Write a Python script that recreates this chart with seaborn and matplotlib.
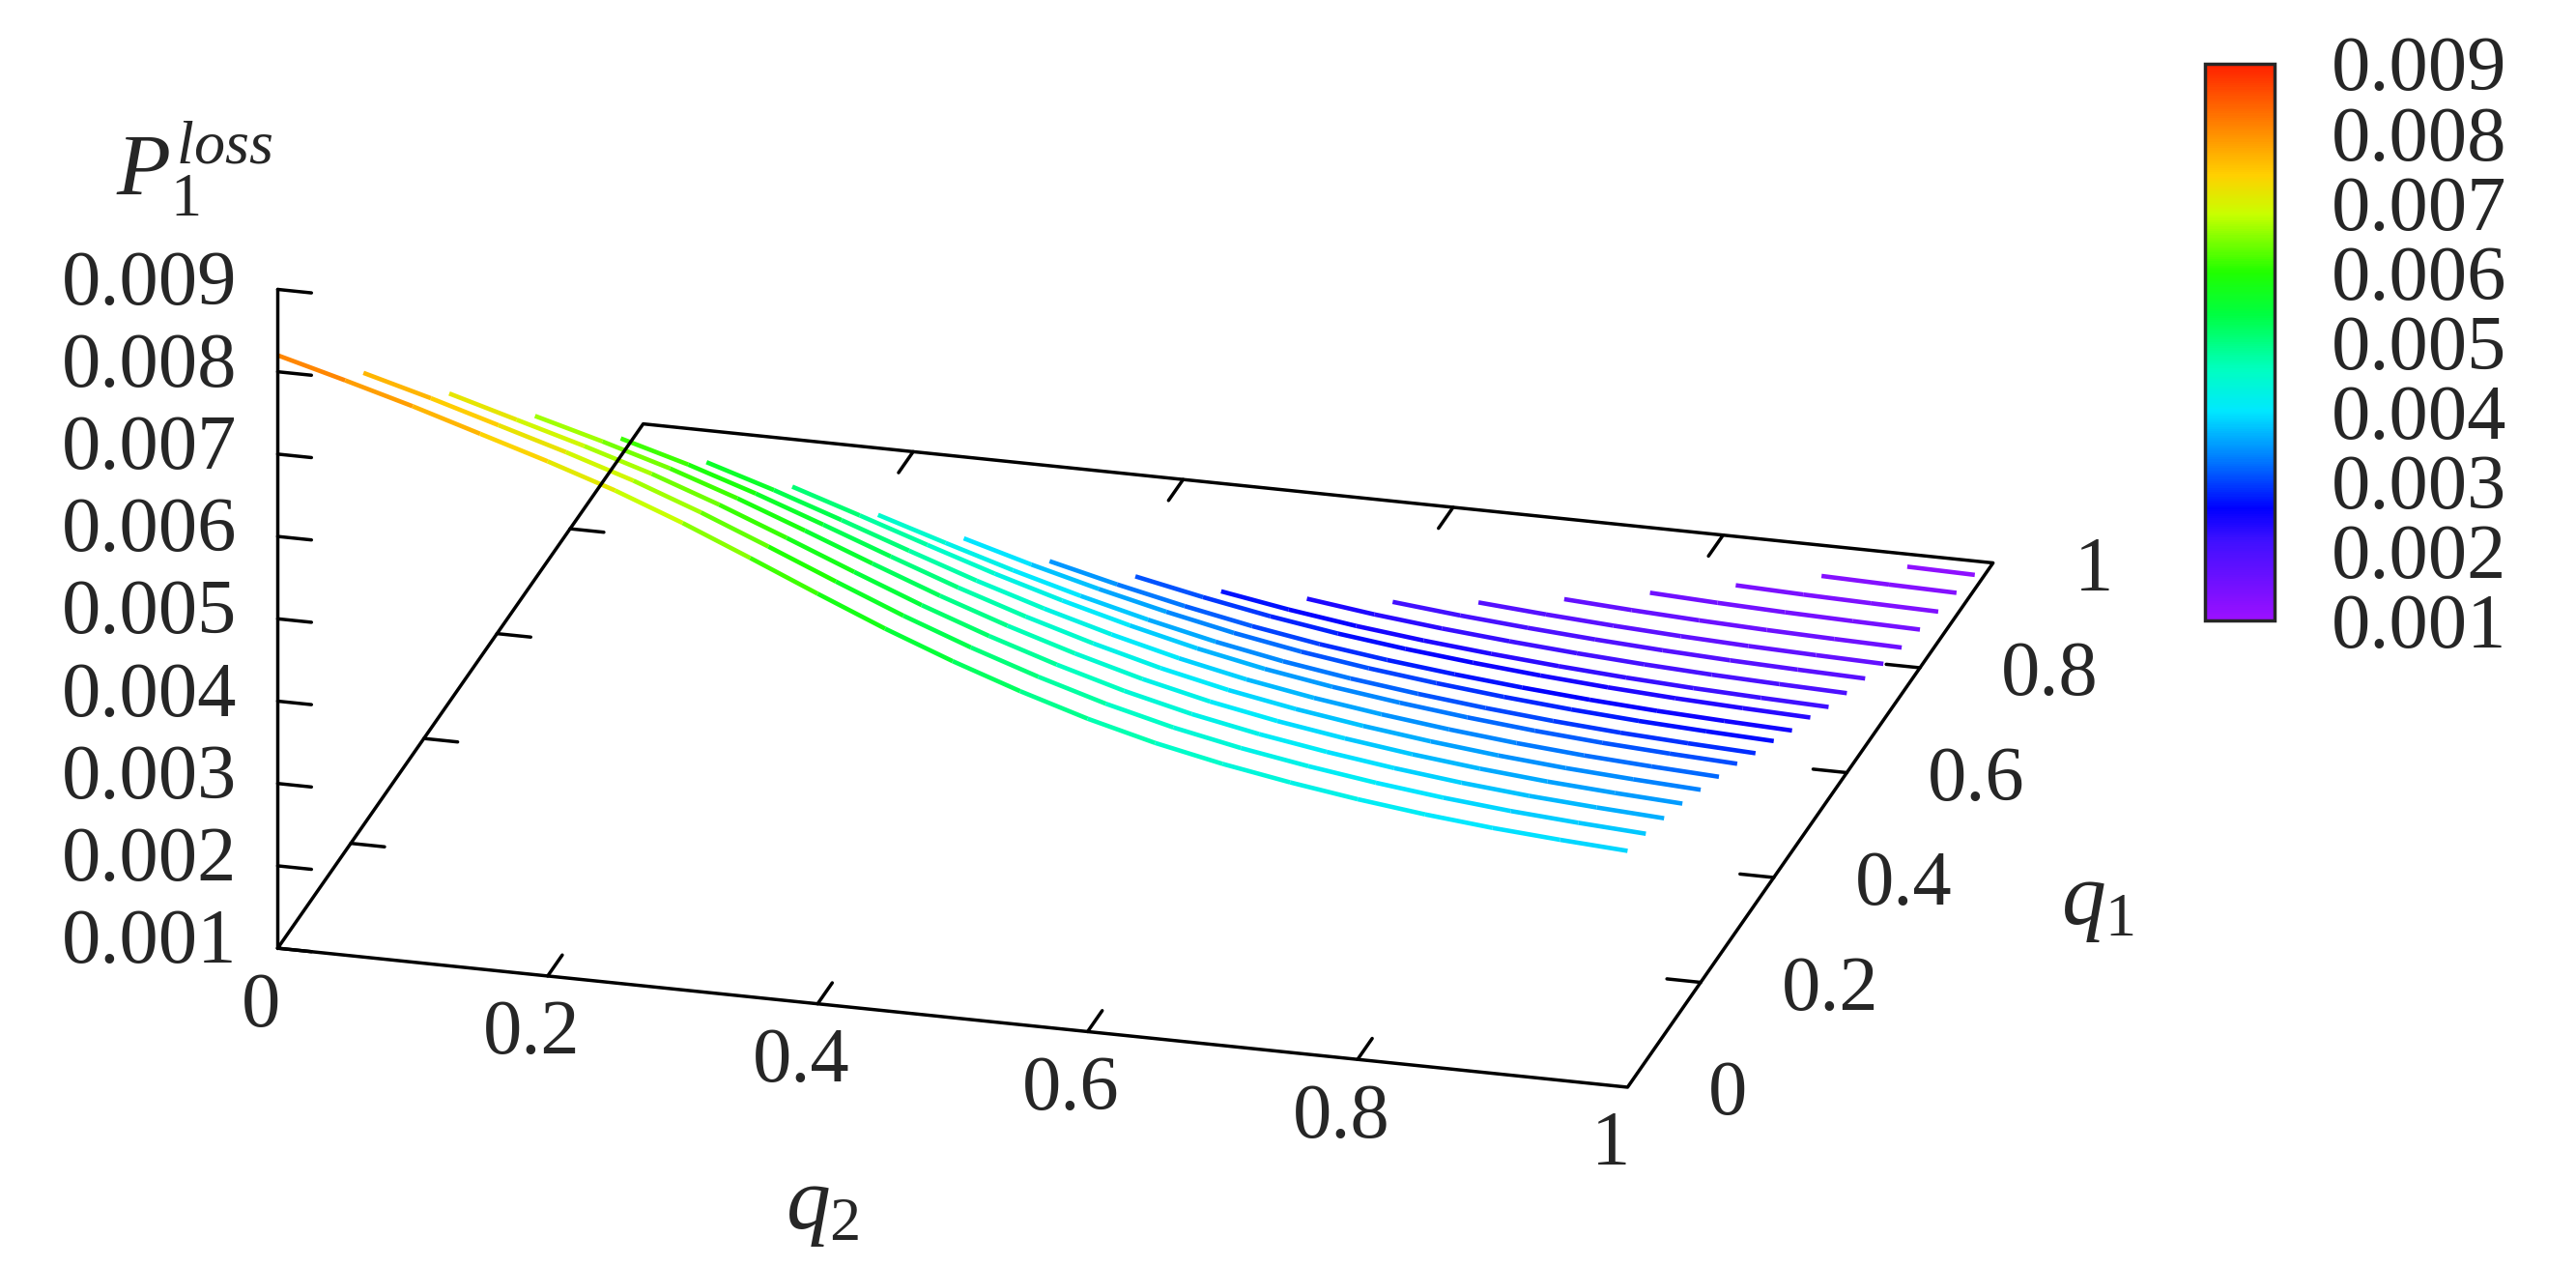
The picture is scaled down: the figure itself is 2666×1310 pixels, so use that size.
import numpy as np
import matplotlib
matplotlib.use("Agg")
import matplotlib.pyplot as plt
import seaborn as sns
from matplotlib.colors import LinearSegmentedColormap, Normalize
from mpl_toolkits.mplot3d.art3d import Line3DCollection

sns.set_theme(style="white")
plt.rcParams['font.family'] = ['Liberation Serif', 'DejaVu Serif']
plt.rcParams['mathtext.fontset'] = 'custom'
plt.rcParams['mathtext.rm'] = 'Liberation Serif'
plt.rcParams['mathtext.it'] = 'Liberation Serif:italic'

# q2 grid and the q1 = 0 profile (values x 1e-3)
q2_grid = [0.0, 0.05, 0.1, 0.15, 0.2, 0.25, 0.3, 0.35, 0.4, 0.45, 0.5,
           0.55, 0.6, 0.65, 0.7, 0.75, 0.8, 0.85, 0.9, 0.95, 1.0]
profile_q1_0 = [8.2, 7.98, 7.75, 7.5, 7.25, 6.98, 6.67, 6.33, 5.98, 5.64, 5.33,
                5.05, 4.80, 4.59, 4.42, 4.28, 4.16, 4.06, 3.98, 3.92, 3.87]
# one curve per q1 value; each starts at q2 = q1; value at q2 = 1 (x 1e-3)
q1_values = [0.0, 0.05, 0.1, 0.15, 0.2, 0.25, 0.3, 0.35, 0.4, 0.45,
             0.5, 0.55, 0.6, 0.65, 0.7, 0.75, 0.8, 0.85, 0.9, 0.95]
end_at_q2_1 = [3.86, 3.75, 3.62, 3.48, 3.33, 3.17, 3.01, 2.82, 2.65, 2.46,
               2.30, 2.11, 1.96, 1.82, 1.68, 1.56, 1.46, 1.36, 1.27, 1.17]
z_ticks = [0.001, 0.002, 0.003, 0.004, 0.005, 0.006, 0.007, 0.008, 0.009]
q_ticks = [0, 0.2, 0.4, 0.6, 0.8, 1]

cmap = LinearSegmentedColormap.from_list("gp", [
    (0.0, "#9b10ff"), (0.14, "#4010ff"), (0.2, "#0000ff"), (0.28, "#0070ff"),
    (0.375, "#00e8ff"), (0.45, "#00ffc0"), (0.55, "#00ff40"), (0.625, "#20ff00"),
    (0.73, "#c8ff00"), (0.8, "#ffd000"), (0.875, "#ff9000"), (1.0, "#ff2000")])
norm = Normalize(0.001, 0.009)

fig = plt.figure(figsize=(26.66, 13.1), dpi=100)
ax = fig.add_axes([-0.0715, -0.168, 1.003, 1.619], projection='3d')
ax.set_proj_type('ortho')
ax.view_init(elev=22.6, azim=-75)
ax.set_box_aspect((1.9, 1.92, 0.97))
ax.set_axis_off()

q2 = np.array(q2_grid)
prof = np.array(profile_q1_0) * 1e-3
segs, vals = [], []
for q1, e in zip(q1_values, end_at_q2_1):
    scale = e / end_at_q2_1[0]
    m = q2 >= q1 - 1e-9
    xs, zs = q2[m], prof[m] * scale
    pts = np.column_stack([xs, np.full_like(xs, q1), zs])
    for a, b in zip(pts[:-1], pts[1:]):
        segs.append([a, b])
        vals.append((a[2] + b[2]) / 2)
lc = Line3DCollection(segs, cmap=cmap, norm=norm, linewidths=3.3)
lc.set_array(np.array(vals))
ax.add_collection3d(lc)

# frame: base at z = 0.001 and vertical z axis
zb = 0.001
k = dict(color='black', lw=2.5)
ax.plot([0, 1, 1, 0, 0], [0, 0, 1, 1, 0], [zb] * 5, **k)
ax.plot([0, 0], [0, 0], [0.001, 0.009], **k)
fs = 58
for t in z_ticks:
    ax.plot([0, 0.025], [0, 0], [t, t], **k)
    ax.text(-0.03, 0, t, f"{t:.3f}", ha='right', va='center', fontsize=fs)
for t in q_ticks[1:-1]:
    ax.plot([t, t], [0, 0.04], [zb, zb], **k)
    ax.plot([t, t], [1, 0.96], [zb, zb], **k)
    ax.plot([0, 0.025], [t, t], [zb, zb], **k)
    ax.plot([1, 0.975], [t, t], [zb, zb], **k)
for t in q_ticks:
    lab = f"{t:g}"
    ax.text(t, -0.045, zb, lab, ha='center', va='top', fontsize=fs)
    ax.text(1.06, t, zb, lab, ha='left', va='center', fontsize=fs)

ax.set_xlim(0, 1)
ax.set_ylim(0, 1)
ax.set_zlim(0.001, 0.009)

fig.text(0.045, 0.845, r'$P_1^{loss}$', fontsize=66)
fig.text(0.305, 0.03, r'$q_2$', fontsize=66)
fig.text(0.80, 0.27, r'$q_1$', fontsize=66)

cax = fig.add_axes([0.856, 0.51, 0.027, 0.44])
cb = fig.colorbar(plt.cm.ScalarMappable(norm=norm, cmap=cmap), cax=cax, ticks=z_ticks)
cb.ax.set_yticklabels([f"{t:.3f}" for t in z_ticks])
cb.ax.tick_params(labelsize=fs, length=16, width=2, direction='in', left=True, right=True, pad=42)
cb.outline.set_linewidth(2.5)

fig.savefig("out.png", dpi=100)
